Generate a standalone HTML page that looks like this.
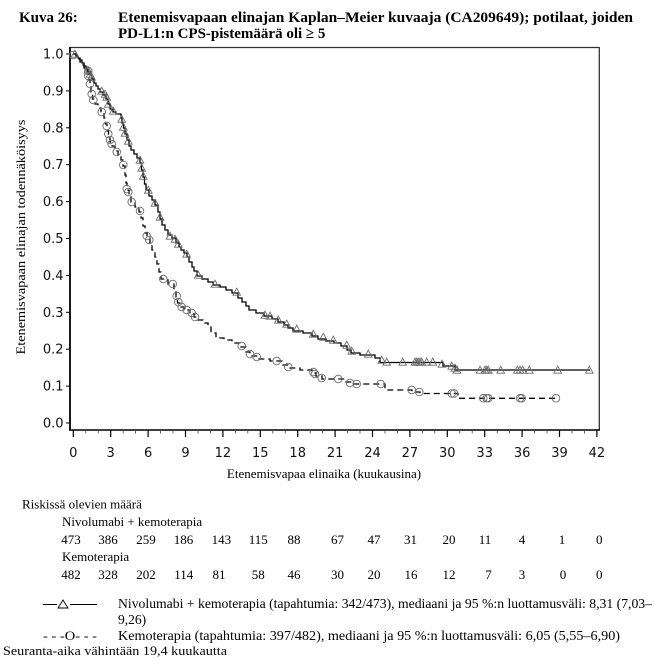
<!DOCTYPE html>
<html><head><meta charset="utf-8"><style>
html,body{margin:0;padding:0;background:#fff;}
svg{display:block;}
.serif{font-family:"Liberation Serif","Times New Roman",serif;}
.sans{font-family:"DejaVu Sans","Liberation Sans",sans-serif;}
</style></head><body>
<svg width="655" height="665" viewBox="0 0 655 665" xmlns="http://www.w3.org/2000/svg">
<rect width="655" height="665" fill="#fff"/>
<!-- Title -->
<g class="serif" font-weight="bold" font-size="15" fill="#000">
<text x="19" y="22">Kuva 26:</text>
<text x="118" y="22" textLength="515" lengthAdjust="spacingAndGlyphs">Etenemisvapaan elinajan Kaplan–Meier kuvaaja (CA209649); potilaat, joiden</text>
<text x="118" y="38">PD-L1:n CPS-pistemäärä oli ≥ 5</text>
</g>
<!-- Plot frame -->
<line x1="70" y1="47.5" x2="599.5" y2="47.5" stroke="#333" stroke-width="1.3"/>
<line x1="599.3" y1="47" x2="599.3" y2="430" stroke="#333" stroke-width="1.3"/>
<line x1="70" y1="47" x2="70" y2="430.5" stroke="#000" stroke-width="1.8"/>
<line x1="69" y1="430" x2="600" y2="430" stroke="#000" stroke-width="1.6"/>
<!-- Y ticks -->
<g stroke="#000" stroke-width="1">
<line x1="66" y1="423" x2="70" y2="423"/><line x1="66" y1="386.1" x2="70" y2="386.1"/>
<line x1="66" y1="349.2" x2="70" y2="349.2"/><line x1="66" y1="312.3" x2="70" y2="312.3"/>
<line x1="66" y1="275.4" x2="70" y2="275.4"/><line x1="66" y1="238.5" x2="70" y2="238.5"/>
<line x1="66" y1="201.6" x2="70" y2="201.6"/><line x1="66" y1="164.7" x2="70" y2="164.7"/>
<line x1="66" y1="127.8" x2="70" y2="127.8"/><line x1="66" y1="90.9" x2="70" y2="90.9"/>
<line x1="66" y1="54" x2="70" y2="54"/>
</g>
<g class="sans" font-size="13" fill="#111" text-anchor="end">
<text x="63.5" y="427.5">0.0</text><text x="63.5" y="390.6">0.1</text>
<text x="63.5" y="353.7">0.2</text><text x="63.5" y="316.8">0.3</text>
<text x="63.5" y="279.9">0.4</text><text x="63.5" y="243">0.5</text>
<text x="63.5" y="206.1">0.6</text><text x="63.5" y="169.2">0.7</text>
<text x="63.5" y="132.3">0.8</text><text x="63.5" y="95.4">0.9</text>
<text x="63.5" y="58.5">1.0</text>
</g>
<!-- X ticks -->
<g stroke="#000" stroke-width="1.2">
<line x1="73.3" y1="430" x2="73.3" y2="437"/><line x1="110.7" y1="430" x2="110.7" y2="437"/>
<line x1="148.1" y1="430" x2="148.1" y2="437"/><line x1="185.5" y1="430" x2="185.5" y2="437"/>
<line x1="222.9" y1="430" x2="222.9" y2="437"/><line x1="260.3" y1="430" x2="260.3" y2="437"/>
<line x1="297.7" y1="430" x2="297.7" y2="437"/><line x1="335.1" y1="430" x2="335.1" y2="437"/>
<line x1="372.5" y1="430" x2="372.5" y2="437"/><line x1="409.9" y1="430" x2="409.9" y2="437"/>
<line x1="447.3" y1="430" x2="447.3" y2="437"/><line x1="484.7" y1="430" x2="484.7" y2="437"/>
<line x1="522.1" y1="430" x2="522.1" y2="437"/><line x1="559.5" y1="430" x2="559.5" y2="437"/>
<line x1="596.9" y1="430" x2="596.9" y2="437"/>
</g>
<g stroke="#444" stroke-width="0.8">
<line x1="85.8" y1="430" x2="85.8" y2="433.5"/><line x1="98.2" y1="430" x2="98.2" y2="433.5"/>
<line x1="123.2" y1="430" x2="123.2" y2="433.5"/><line x1="135.6" y1="430" x2="135.6" y2="433.5"/>
<line x1="160.6" y1="430" x2="160.6" y2="433.5"/><line x1="173" y1="430" x2="173" y2="433.5"/>
<line x1="198" y1="430" x2="198" y2="433.5"/><line x1="210.4" y1="430" x2="210.4" y2="433.5"/>
<line x1="235.4" y1="430" x2="235.4" y2="433.5"/><line x1="247.8" y1="430" x2="247.8" y2="433.5"/>
<line x1="272.8" y1="430" x2="272.8" y2="433.5"/><line x1="285.2" y1="430" x2="285.2" y2="433.5"/>
<line x1="310.2" y1="430" x2="310.2" y2="433.5"/><line x1="322.6" y1="430" x2="322.6" y2="433.5"/>
<line x1="347.6" y1="430" x2="347.6" y2="433.5"/><line x1="360" y1="430" x2="360" y2="433.5"/>
<line x1="385" y1="430" x2="385" y2="433.5"/><line x1="397.4" y1="430" x2="397.4" y2="433.5"/>
<line x1="422.4" y1="430" x2="422.4" y2="433.5"/><line x1="434.8" y1="430" x2="434.8" y2="433.5"/>
<line x1="459.8" y1="430" x2="459.8" y2="433.5"/><line x1="472.2" y1="430" x2="472.2" y2="433.5"/>
<line x1="497.2" y1="430" x2="497.2" y2="433.5"/><line x1="509.6" y1="430" x2="509.6" y2="433.5"/>
<line x1="534.6" y1="430" x2="534.6" y2="433.5"/><line x1="547" y1="430" x2="547" y2="433.5"/>
<line x1="572" y1="430" x2="572" y2="433.5"/><line x1="584.4" y1="430" x2="584.4" y2="433.5"/>
</g>
<g class="sans" font-size="13" fill="#111" text-anchor="middle">
<text x="73.3" y="457">0</text><text x="110.7" y="457">3</text><text x="148.1" y="457">6</text>
<text x="185.5" y="457">9</text><text x="222.9" y="457">12</text><text x="260.3" y="457">15</text>
<text x="297.7" y="457">18</text><text x="335.1" y="457">21</text><text x="372.5" y="457">24</text>
<text x="409.9" y="457">27</text><text x="447.3" y="457">30</text><text x="484.7" y="457">33</text>
<text x="522.1" y="457">36</text><text x="559.5" y="457">39</text><text x="596.9" y="457">42</text>
</g>
<!-- Axis titles -->
<text class="serif" font-size="13" x="324" y="478" text-anchor="middle">Etenemisvapaa elinaika (kuukausina)</text>
<text class="serif" font-size="13" transform="translate(25,237) rotate(-90)" text-anchor="middle" textLength="235" lengthAdjust="spacingAndGlyphs">Etenemisvapaan elinajan todennäköisyys</text>
<!-- Curves -->
<path fill="none" stroke="#000" stroke-width="1.3" d="M73.3,54 H76 V56 H78 V58 H80 V60 H82 V63 H84 V66 H86 V69 H88 V72 H90 V75 H92 V79 H94 V83 H96 V86 H98 V89 H100 V92 H103 V95 H106 V99 H108 V104 H110 V109 H113 V112 H116 V114 H121 V118 H122 V123 H123.5 V128 H125 V134 H127 V140 H129 V146 H131 V150 H134 V154 H137 V158 H140 V163 H141.5 V170 H143 V177 H144.5 V184 H146 V190 H149 V196 H152 V200 H155 V205 H158 V212 H160 V219 H162 V225 H165 V230 H168 V235 H172 V238 H176 V243 H179 V247 H181 V250 H184 V253 H187 V257 H189 V262 H192 V267 H194 V271 H197 V276 H202 V279 H208 V282 H213 V285 H220 V287 H226 V290 H232 V293 H238 V298 H242 V302 H246 V306 H249 V310 H256 V313 H264 V316 H272 V319 H278 V322 H284 V325 H288 V328 H293 V331 H303 V333 H312 V336 H318 V339 H326 V341 H334 V343 H341 V346 H347 V350 H351 V353 H360 V355 H375 V358 H380 V362.5 H443 V366 H455 V370 H590"/>
<path fill="none" stroke="#000" stroke-width="1.3" stroke-dasharray="6,4" d="M73.3,54 H76 V56 H78 V59 H80 V62 H82 V65 H84 V68 H86 V71 H88 V74 H89 V80 H90 V86 H91 V92 H92.5 V99 H95 V104 H98 V108 H101 V113 H104 V118 H105.5 V124 H107 V131 H108.5 V137 H110 V142 H112 V146 H115 V151 H118 V155 H121 V160 H123 V166 H125 V175 H126 V183 H127 V190 H129 V196 H131 V202 H135 V207 H139 V212 H141 V218 H143 V226 H145 V233 H147 V238 H150 V244 H152 V250 H155 V257 H157 V264 H159 V272 H161 V279 H168 V284 H174 V290 H176 V297 H177.5 V303 H180 V307 H184 V310 H190 V313 H194 V317 H197 V320 H203 V323 H208 V327 H211 V333 H216 V338 H224 V340 H232 V343 H240 V347 H246 V352 H250 V356 H258 V359 H270 V361 H282 V365 H288 V368 H300 V370 H312 V373 H316 V376 H322 V379 H345 V382 H352 V384 H385 V390 H412 V392 H420 V393.5 H458 V398.3 H556"/>
<defs>
<path id="t" d="M-3.8,3.2 L3.8,3.2 L0,-3.8 Z" fill="none" stroke="#6a6a6a" stroke-width="0.9"/>
<circle id="c" r="3.8" fill="none" stroke="#6a6a6a" stroke-width="0.9"/>
</defs>
<g>
<use href="#t" x="75" y="54"/><use href="#t" x="88" y="70"/><use href="#t" x="90" y="74"/><use href="#t" x="91.5" y="77"/>
<use href="#t" x="101.7" y="91"/><use href="#t" x="105" y="94"/><use href="#t" x="106.7" y="97"/><use href="#t" x="108.3" y="104"/>
<use href="#t" x="113.3" y="111"/><use href="#t" x="121.7" y="119"/><use href="#t" x="123.3" y="127"/><use href="#t" x="125" y="133"/>
<use href="#t" x="128.3" y="141"/><use href="#t" x="140" y="160"/><use href="#t" x="141.7" y="168"/><use href="#t" x="143.3" y="176"/>
<use href="#t" x="148.3" y="190"/><use href="#t" x="155" y="203"/><use href="#t" x="160" y="217"/><use href="#t" x="170" y="236"/>
<use href="#t" x="175" y="239"/><use href="#t" x="178.3" y="244"/><use href="#t" x="186.7" y="254"/><use href="#t" x="198.3" y="275"/>
<use href="#t" x="215" y="284"/><use href="#t" x="236.7" y="292"/><use href="#t" x="265" y="315"/><use href="#t" x="270" y="316"/>
<use href="#t" x="278.3" y="320"/><use href="#t" x="286.7" y="324"/><use href="#t" x="296.7" y="329"/><use href="#t" x="313.3" y="334"/>
<use href="#t" x="323.3" y="337"/><use href="#t" x="333.3" y="340"/><use href="#t" x="346.7" y="345"/><use href="#t" x="351.7" y="351"/>
<use href="#t" x="368.3" y="354"/><use href="#t" x="381.7" y="360"/><use href="#t" x="386.7" y="362"/><use href="#t" x="402.7" y="362"/>
<use href="#t" x="415" y="362"/><use href="#t" x="416.7" y="362"/><use href="#t" x="418.3" y="362"/><use href="#t" x="420" y="362"/>
<use href="#t" x="421.7" y="362"/><use href="#t" x="426.7" y="362"/><use href="#t" x="432.7" y="362"/><use href="#t" x="442" y="364"/>
<use href="#t" x="451.7" y="366"/><use href="#t" x="455" y="368"/><use href="#t" x="457" y="370"/><use href="#t" x="480" y="370"/>
<use href="#t" x="485" y="370"/><use href="#t" x="486.7" y="370"/><use href="#t" x="488.3" y="370"/><use href="#t" x="500.7" y="370"/>
<use href="#t" x="517.3" y="370"/><use href="#t" x="520" y="370"/><use href="#t" x="522.7" y="370"/><use href="#t" x="529.3" y="370"/>
<use href="#t" x="557.7" y="370"/><use href="#t" x="589.3" y="370"/>
</g>
<g>
<use href="#c" x="73.3" y="55"/><use href="#c" x="88.3" y="71"/><use href="#c" x="88.3" y="76"/><use href="#c" x="90" y="84"/>
<use href="#c" x="91.7" y="94"/><use href="#c" x="93.3" y="100"/><use href="#c" x="101.7" y="112"/><use href="#c" x="106.7" y="126"/>
<use href="#c" x="108.3" y="134"/><use href="#c" x="110" y="140"/><use href="#c" x="111.7" y="144"/><use href="#c" x="116.7" y="152"/>
<use href="#c" x="123.3" y="165"/><use href="#c" x="126.7" y="189"/><use href="#c" x="128.3" y="192"/><use href="#c" x="131.7" y="202"/>
<use href="#c" x="140" y="211"/><use href="#c" x="146.7" y="236"/><use href="#c" x="149.3" y="240"/><use href="#c" x="163.3" y="279"/>
<use href="#c" x="172.7" y="284"/><use href="#c" x="176.7" y="296"/><use href="#c" x="178.3" y="302"/><use href="#c" x="181.7" y="307"/>
<use href="#c" x="186.7" y="310"/><use href="#c" x="191.7" y="313"/><use href="#c" x="195" y="317"/><use href="#c" x="241.7" y="346"/>
<use href="#c" x="250" y="354"/><use href="#c" x="256.7" y="357"/><use href="#c" x="276.7" y="361"/><use href="#c" x="288.3" y="367"/>
<use href="#c" x="313.3" y="372"/><use href="#c" x="315" y="374"/><use href="#c" x="321.7" y="378"/><use href="#c" x="338.3" y="379"/>
<use href="#c" x="350" y="383"/><use href="#c" x="356.7" y="384"/><use href="#c" x="380.7" y="384"/><use href="#c" x="411.7" y="390"/>
<use href="#c" x="419.3" y="392"/><use href="#c" x="451.7" y="393.5"/><use href="#c" x="454" y="393.5"/><use href="#c" x="483.3" y="398.3"/>
<use href="#c" x="486.7" y="398.3"/><use href="#c" x="488.3" y="398.3"/><use href="#c" x="520" y="398.3"/><use href="#c" x="521.7" y="398.3"/>
<use href="#c" x="556" y="398.3"/>
</g>
<!-- Risk table -->
<g class="serif" font-size="13" fill="#000">
<text x="22" y="508.5">Riskissä olevien määrä</text>
<text x="62" y="526">Nivolumabi + kemoterapia</text>
<text x="62" y="561">Kemoterapia</text>
</g>
<g class="serif" font-size="13" fill="#000" text-anchor="middle">
<text x="71" y="544">473</text><text x="108" y="544">386</text><text x="146" y="544">259</text>
<text x="183.5" y="544">186</text><text x="221.4" y="544">143</text><text x="258.3" y="544">115</text>
<text x="294" y="544">88</text><text x="337.5" y="544">67</text><text x="374" y="544">47</text>
<text x="410.5" y="544">31</text><text x="449" y="544">20</text><text x="485" y="544">11</text>
<text x="522" y="544">4</text><text x="562" y="544">1</text><text x="599.3" y="544">0</text>
<text x="71" y="579">482</text><text x="108" y="579">328</text><text x="146" y="579">202</text>
<text x="183.8" y="579">114</text><text x="219" y="579">81</text><text x="258.3" y="579">58</text>
<text x="294" y="579">46</text><text x="337.5" y="579">30</text><text x="374" y="579">20</text>
<text x="411" y="579">16</text><text x="449" y="579">12</text><text x="488.5" y="579">7</text>
<text x="522" y="579">3</text><text x="563" y="579">0</text><text x="599.3" y="579">0</text>
</g>
<!-- Legend -->
<g stroke="#000" stroke-width="1">
<line x1="43" y1="604.5" x2="57" y2="604.5"/>
<line x1="70" y1="604.5" x2="97" y2="604.5"/>
</g>
<path d="M58,608 L68,608 L63,600 Z" fill="none" stroke="#000" stroke-width="0.9"/>
<text class="serif" font-size="13" x="43" y="640" textLength="54" lengthAdjust="spacingAndGlyphs">- - -O- - -</text>
<g class="serif" font-size="13.5" fill="#000">
<text x="118" y="608" textLength="534" lengthAdjust="spacingAndGlyphs">Nivolumabi + kemoterapia (tapahtumia: 342/473), mediaani ja 95 %:n luottamusväli: 8,31 (7,03–</text>
<text x="118" y="624">9,26)</text>
<text x="118" y="640" textLength="502" lengthAdjust="spacingAndGlyphs">Kemoterapia (tapahtumia: 397/482), mediaani ja 95 %:n luottamusväli: 6,05 (5,55–6,90)</text>
</g>
<text class="serif" font-size="12.5" x="3" y="655" textLength="224" lengthAdjust="spacingAndGlyphs">Seuranta-aika vähintään 19,4 kuukautta</text>
</svg>
</body></html>
